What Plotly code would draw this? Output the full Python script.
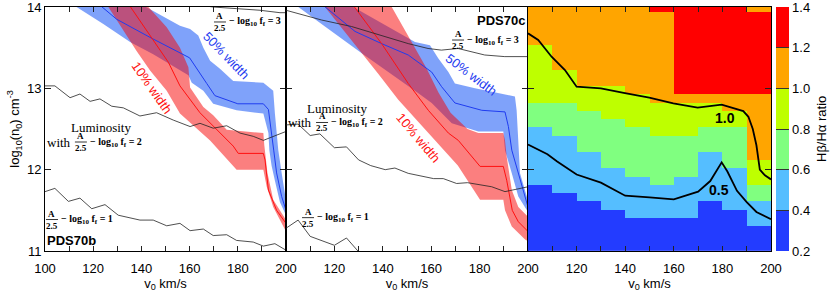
import plotly.graph_objects as go
import numpy as np

# ---------------- data: PDS70b panel (v0 km/s, log10 n0) ----------------
b_lum3_v = [160.0, 169.8, 179.5, 189.2, 197.5, 200.0]
b_lum3_n = [14.04, 14.00, 13.98, 13.96, 13.93, 13.93]
b_lum2_v = [100, 104.1, 110.4, 114.5, 118.7, 122.8, 127.7, 132.5, 139.4, 146.3, 153.2, 160.2, 164.3, 169.8, 175.4, 180.9, 186.4, 190.6, 200]
b_lum2_n = [13.03, 13.03, 12.885, 12.93, 12.84, 12.87, 12.78, 12.76, 12.66, 12.70, 12.61, 12.53, 12.57, 12.51, 12.54, 12.45, 12.41, 12.36, 12.47]
b_lum1_v = [100, 104.1, 109.7, 114.5, 119.4, 124.9, 130.4, 139.4, 144.9, 150.5, 156, 160.2, 165.7, 169.8, 175.4, 179.5, 186.4, 190.6, 195.4, 200]
b_lum1_n = [11.73, 11.77, 11.61, 11.65, 11.52, 11.57, 11.44, 11.38, 11.38, 11.31, 11.34, 11.25, 11.27, 11.19, 11.20, 11.13, 11.11, 11.06, 11.09, 11.01]

b_w50_v = [122.5, 129.7, 144.0, 160.0, 167.1, 170.5, 180.0, 190.6, 192.7, 194.1, 194.9, 196.1, 198.2, 200.0]
b_w50_n = [14.03, 13.85, 13.62, 13.375, 13.06, 12.91, 12.81, 12.81, 12.74, 12.45, 12.24, 11.96, 11.67, 11.50]
b_w50_hi_v = [141.9, 156.0, 160.2, 163.6, 165.7, 168.5, 172.6, 178.1, 190.6, 194.7, 195.4, 196.8, 198.2, 200.0]
b_w50_hi_n = [14.00, 13.77, 13.73, 13.65, 13.50, 13.34, 13.24, 13.09, 13.07, 12.97, 12.69, 12.24, 11.96, 11.62]
b_w50_lo_v = [113.1, 124.2, 135.3, 144.9, 159.5, 160.9, 165.7, 169.8, 179.5, 190.6, 192.7, 193.1, 194.0, 195.5, 197.5, 200.0]
b_w50_lo_n = [14.00, 13.79, 13.57, 13.42, 13.16, 13.07, 12.97, 12.81, 12.73, 12.69, 12.45, 12.24, 12.05, 11.85, 11.60, 11.44]

b_w10_v = [135.5, 144.9, 151.2, 156.0, 164.3, 178.1, 180.2, 190.6, 191.3, 192.7, 196.1, 200.0]
b_w10_n = [14.00, 13.59, 13.32, 13.03, 12.70, 12.29, 12.20, 12.20, 12.12, 11.75, 11.50, 11.34]
b_w10_hi_v = [142.9, 150.5, 156.0, 159.5, 160.2, 165.7, 169.8, 175.4, 190.6, 191.0, 192.3, 194.7, 200.0]
b_w10_hi_n = [14.00, 13.75, 13.50, 13.26, 13.01, 12.77, 12.67, 12.49, 12.45, 12.30, 11.96, 11.63, 11.38]
b_w10_lo_v = [126.3, 132.5, 138.0, 143.6, 150.5, 156.0, 168.5, 179.5, 190.6, 192.0, 194.7, 200.0]
b_w10_lo_n = [14.00, 13.71, 13.46, 13.22, 12.97, 12.69, 12.36, 12.00, 12.00, 11.79, 11.54, 11.24]

# ---------------- data: PDS70c panel ----------------
c_lum3_v = [100, 105.1, 114.7, 127.1, 140.9, 150.5, 158.7, 164.2, 171.1, 182.1, 190.4, 200]
c_lum3_n = [13.96, 13.92, 13.84, 13.76, 13.635, 13.55, 13.49, 13.47, 13.49, 13.41, 13.39, 13.39]
c_lum2_v = [100, 105, 110, 114, 120, 125, 130, 135, 141, 145, 150.5, 161, 165, 170.5, 175, 181, 185, 190.5, 196, 200]
c_lum2_n = [12.55, 12.56, 12.42, 12.44, 12.27, 12.28, 12.12, 12.05, 12.00, 12.02, 11.955, 11.89, 11.89, 11.83, 11.84, 11.81, 11.79, 11.73, 11.76, 11.79]
c_lum1_v = [100, 105, 110, 120, 125, 130]
c_lum1_n = [11.28, 11.38, 11.18, 11.07, 11.16, 10.99]

c_w50_v = [115.4, 128.5, 139.5, 150.5, 160.2, 164.3, 169.8, 180.9, 190.5, 191.9, 193.3, 196.0, 198.8, 200.0]
c_w50_n = [14.02, 13.70, 13.55, 13.41, 13.20, 13.02, 12.82, 12.73, 12.71, 12.53, 12.24, 11.955, 11.67, 11.54]
c_w50_hi_v = [127.8, 153.3, 159.5, 162.9, 167.1, 169.8, 178.1, 194.6, 195.3, 196.0, 196.7, 199.5, 200.0]
c_w50_hi_n = [14.00, 13.57, 13.53, 13.37, 13.20, 13.06, 13.00, 12.90, 12.73, 12.24, 11.955, 11.67, 11.60]
c_w50_lo_v = [105.1, 116.1, 131.3, 145.0, 154.7, 160.2, 168.5, 179.5, 189.8, 190.5, 193.3, 196.0, 200.0]
c_w50_lo_n = [14.00, 13.76, 13.43, 13.14, 12.94, 12.82, 12.57, 12.47, 12.47, 12.24, 11.955, 11.67, 11.48]

c_w10_v = [127.8, 139.5, 150.5, 158.8, 167.1, 171.2, 180.2, 189.8, 191.2, 193.5, 196.0, 200.0]
c_w10_n = [14.02, 13.55, 13.06, 12.73, 12.45, 12.36, 12.04, 12.04, 11.87, 11.50, 11.36, 11.24]
c_w10_hi_v = [143.7, 152.0, 158.0, 163.0, 168.0, 175.0, 179.5, 189.8, 190.5, 191.2, 193.3, 196.0, 200.0]
c_w10_hi_n = [14.00, 13.57, 13.25, 12.95, 12.70, 12.50, 12.45, 12.45, 12.36, 12.16, 11.75, 11.54, 11.42]
c_w10_lo_v = [116.1, 127.1, 138.1, 146.4, 157.4, 161.6, 171.0, 180.2, 189.8, 190.5, 193.3, 198.8, 200.0]
c_w10_lo_n = [14.00, 13.59, 13.18, 12.86, 12.49, 12.36, 12.05, 11.63, 11.63, 11.50, 11.30, 11.14, 11.12]

# ---------------- data: Hbeta/Halpha ratio grid (PDS70c) ----------------
ratio_v = [105, 115, 125, 135, 145, 155, 165, 175, 185, 195]   # column centres, km/s
ratio_row_h = 0.1013                                          # row height in log10 n0
ratio_nrows = 30
# runs of (ratio, number of rows) from top row downwards, one list per column
ratio_runs = [
    [(1.1, 5), (0.9, 7), (0.7, 3), (0.5, 7), (0.3, 8)],
    [(1.1, 8), (0.9, 4), (0.7, 4), (0.5, 7), (0.3, 7)],
    [(1.1, 10), (0.9, 3), (0.7, 5), (0.5, 6), (0.3, 6)],
    [(1.1, 10), (0.9, 4), (0.7, 6), (0.5, 5), (0.3, 5)],
    [(1.1, 11), (0.9, 4), (0.7, 6), (0.5, 5), (0.3, 4)],
    [(1.3, 1), (1.1, 11), (0.9, 4), (0.7, 6), (0.5, 4), (0.3, 4)],
    [(1.3, 11), (1.1, 1), (0.9, 4), (0.7, 5), (0.5, 5), (0.3, 4)],
    [(1.3, 11), (1.1, 1), (0.9, 3), (0.7, 3), (0.5, 6), (0.3, 6)],
    [(1.3, 11), (1.1, 2), (0.9, 2), (0.7, 5), (0.5, 5), (0.3, 5)],
    [(1.1, 1), (1.3, 10), (1.1, 8), (0.9, 3), (0.7, 2), (0.5, 3), (0.3, 3)],
]
ratio_levels = [0.2, 0.4, 0.6, 0.8, 1.0, 1.2, 1.4]
ratio_colors = ['#233cff', '#55beff', '#80ff80', '#beff00', '#ffa500', '#ff0000']

cont10_v = [100, 104.2, 109.7, 115.2, 120, 130, 139.9, 149.9, 159.8, 169.8, 179.7, 188.6, 190.7, 192.5, 194.0, 195.0, 195.4, 197.5, 200]
cont10_n = [13.676, 13.594, 13.389, 13.225, 13.02, 13.0, 12.94, 12.885, 12.816, 12.762, 12.80, 12.72, 12.65, 12.50, 12.30, 12.10, 12.00, 11.93, 11.88]
cont05_v = [100, 104, 108, 112, 117.7, 120, 130, 140, 150, 160, 170, 175, 179.7, 182, 186, 190, 194, 200]
cont05_n = [12.31, 12.25, 12.19, 12.10, 11.98, 11.94, 11.84, 11.68, 11.66, 11.635, 11.73, 11.86, 12.09, 11.98, 11.74, 11.60, 11.48, 11.39]

# ---------------- build figure ----------------
fig = go.Figure()
BLUE_FILL = 'rgba(0,70,245,0.5)'
RED_FILL = 'rgba(248,0,0,0.5)'
BLUE_LINE = '#1f3cf0'
RED_LINE = '#ff1010'
BLACK = '#222222'


def line(xs, ys, xa, ya, color, width):
    fig.add_trace(go.Scatter(x=xs, y=ys, mode='lines', xaxis=xa, yaxis=ya,
                             line=dict(color=color, width=width),
                             hoverinfo='skip', showlegend=False))


def band(vh, nh, vl, nl, xa, ya, color):
    fig.add_trace(go.Scatter(x=list(vh) + list(vl)[::-1], y=list(nh) + list(nl)[::-1],
                             mode='lines', fill='toself', fillcolor=color,
                             line=dict(width=0), xaxis=xa, yaxis=ya,
                             hoverinfo='skip', showlegend=False))


for xa, ya, d in [('x', 'y', 'b'), ('x2', 'y2', 'c')]:
    g = globals()
    band(g[d + '_w50_hi_v'], g[d + '_w50_hi_n'], g[d + '_w50_lo_v'], g[d + '_w50_lo_n'], xa, ya, BLUE_FILL)
    band(g[d + '_w10_hi_v'], g[d + '_w10_hi_n'], g[d + '_w10_lo_v'], g[d + '_w10_lo_n'], xa, ya, RED_FILL)
    line(g[d + '_w50_v'], g[d + '_w50_n'], xa, ya, BLUE_LINE, 1)
    line(g[d + '_w10_v'], g[d + '_w10_n'], xa, ya, RED_LINE, 1)
    for k in ('3', '2', '1'):
        line(g[d + '_lum' + k + '_v'], g[d + '_lum' + k + '_n'], xa, ya, BLACK, 0.8)

# heatmap
cols = []
for runs in ratio_runs:
    col = []
    for val, cnt in runs:
        col += [val] * cnt
    cols.append(col[::-1])          # bottom row first
z = np.array(cols).T
row_y = 11 + ratio_row_h * (np.arange(ratio_nrows) + 0.5)

cs = []
nb = len(ratio_colors)
for i, c in enumerate(ratio_colors):
    cs.append([i / nb, c])
    cs.append([(i + 1) / nb, c])

W, H = 831, 295
ML, MR, MT, MB = 45, 60, 7, 44
pw = W - ML - MR

fig.add_trace(go.Heatmap(
    x=ratio_v, y=row_y, z=z, colorscale=cs, zmin=ratio_levels[0], zmax=ratio_levels[-1],
    xaxis='x3', yaxis='y3', hoverinfo='skip',
    colorbar=dict(x=(776 - ML) / pw, xanchor='left', xpad=0, y=0.5, yanchor='middle',
                  len=1, lenmode='fraction', ypad=0, thickness=13,
                  tickvals=ratio_levels, ticktext=['%.1f' % v for v in ratio_levels],
                  ticks='inside', ticklen=13, tickcolor='#333', tickwidth=1,
                  ticklabeloverflow='allow',
                  outlinewidth=0, tickfont=dict(size=13, color='black'))))
line(cont10_v, cont10_n, 'x3', 'y3', 'black', 1.8)
line(cont05_v, cont05_n, 'x3', 'y3', 'black', 1.8)

# ---------------- axes ----------------
d1 = (286 - ML) / pw
d2 = (528 - ML) / pw

xt = list(range(100, 201, 10))
lab1 = [str(v) if v % 20 == 0 else '' for v in xt]
lab2 = ['' if v == 100 else l for v, l in zip(xt, lab1)]

def xax(dom, labels, anchor):
    return dict(domain=dom, range=[100, 200], anchor=anchor, tickvals=xt, ticktext=labels,
                ticks='inside', ticklen=5, tickcolor=BLACK, showline=True, linecolor='black',
                linewidth=1, mirror='allticks', showgrid=False, zeroline=False,
                tickfont=dict(size=13), ticklabelstandoff=5, automargin=False,
                ticklabeloverflow='allow',
                title=dict(text='v<sub>0</sub> km/s', font=dict(size=13), standoff=0))

def yax(anchor, show):
    return dict(domain=[0, 1], range=[11, 14], anchor=anchor, tickvals=[11, 12, 13, 14],
                ticks='inside', ticklen=6, tickcolor=BLACK, showline=True, linecolor='black',
                linewidth=1, mirror='allticks', showgrid=False, zeroline=False,
                showticklabels=show, tickfont=dict(size=13), automargin=False,
                ticklabeloverflow='allow')

fig.update_layout(
    width=W, height=H, margin=dict(l=ML, r=MR, t=MT, b=MB, autoexpand=False),
    paper_bgcolor='white', plot_bgcolor='white',
    font=dict(family='Liberation Sans, Arial, sans-serif', size=13, color='black'),
    xaxis=xax([0, d1], lab1, 'y'), xaxis2=xax([d1, d2], lab2, 'y2'), xaxis3=xax([d2, 1], lab2, 'y3'),
    yaxis=dict(yax('x', True), title=dict(text='log<sub>10</sub>(n<sub>0</sub>) cm<sup>-3</sup>',
                                          font=dict(size=13), standoff=4)),
    yaxis2=yax('x2', False), yaxis3=yax('x3', False),
    showlegend=False,
)

# ---------------- annotations ----------------
SERIF = 'Liberation Serif, Times New Roman, serif'
anns = []
shapes = []


def frac(xr, yr, x, y, rhs, prefix=None):
    anns.append(dict(x=x, y=y, xref=xr, yref=yr, text='<b>A</b>', showarrow=False, yshift=6,
                     font=dict(family=SERIF, size=9), xanchor='center', yanchor='middle'))
    anns.append(dict(x=x, y=y, xref=xr, yref=yr, text='<b>2.5</b>', showarrow=False, yshift=-6,
                     font=dict(family=SERIF, size=9), xanchor='center', yanchor='middle'))
    shapes.append(dict(type='line', xref=xr, yref=yr, xsizemode='pixel', ysizemode='pixel',
                       xanchor=x, yanchor=y, x0=-6, x1=6, y0=0, y1=0,
                       line=dict(color='black', width=0.8)))
    anns.append(dict(x=x, y=y, xref=xr, yref=yr, xshift=7, showarrow=False,
                     text='<b>− log<sub>10</sub> f<sub>f</sub> = %s</b>' % rhs,
                     font=dict(family=SERIF, size=10), xanchor='left', yanchor='middle'))
    if prefix:
        anns.append(dict(x=x, y=y, xref=xr, yref=yr, xshift=-8, showarrow=False, text=prefix,
                         font=dict(family=SERIF, size=13), xanchor='right', yanchor='middle'))


def text(xr, yr, x, y, t, size=13, color='black', angle=0, bold=False, family=None):
    anns.append(dict(x=x, y=y, xref=xr, yref=yr, showarrow=False,
                     text='<b>%s</b>' % t if bold else t, textangle=angle,
                     font=dict(size=size, color=color, family=family or 'Liberation Sans, Arial, sans-serif'),
                     xanchor='center', yanchor='middle'))

# PDS70b
frac('x', 'y', 172.6, 13.816, '3')
text('x', 'y', 123.2, 12.524, 'Luminosity', family=SERIF)
frac('x', 'y', 114.9, 12.34, '2', prefix='with')
frac('x', 'y', 102.9, 11.387, '1')
text('x', 'y', 111.2, 11.135, 'PDS70b', bold=True)
text('x', 'y', 175.1, 13.40, '50% width', color=BLUE_LINE, angle=46)
text('x', 'y', 144.3, 13.01, '10% width', color=RED_LINE, angle=55)
# PDS70c
text('x2', 'y2', 188.8, 13.83, 'PDS70c', bold=True)
frac('x2', 'y2', 171.1, 13.594, '3')
text('x2', 'y2', 121.1, 12.758, 'Luminosity', family=SERIF)
frac('x2', 'y2', 114.9, 12.58, '2', prefix='with')
frac('x2', 'y2', 109.1, 11.41, '1')
text('x2', 'y2', 176.4, 13.164, '50% width', color=BLUE_LINE, angle=37)
text('x2', 'y2', 154.5, 12.39, '10% width', color=RED_LINE, angle=50)
# ratio map contour labels
text('x3', 'y3', 181.1, 12.635, '1.0', size=14, bold=True)
text('x3', 'y3', 178.8, 11.75, '0.5', size=14, bold=True)
# colour-bar title
anns.append(dict(x=(821 - ML) / pw, y=0.5, xref='paper', yref='paper', showarrow=False,
                 text='Hβ/Hα ratio', textangle=-90, font=dict(size=13),
                 xanchor='center', yanchor='middle'))

fig.update_layout(annotations=anns, shapes=shapes)
fig.write_html('out.html', post_script="document.body.style.margin='0';",
               config={'displayModeBar': False})
